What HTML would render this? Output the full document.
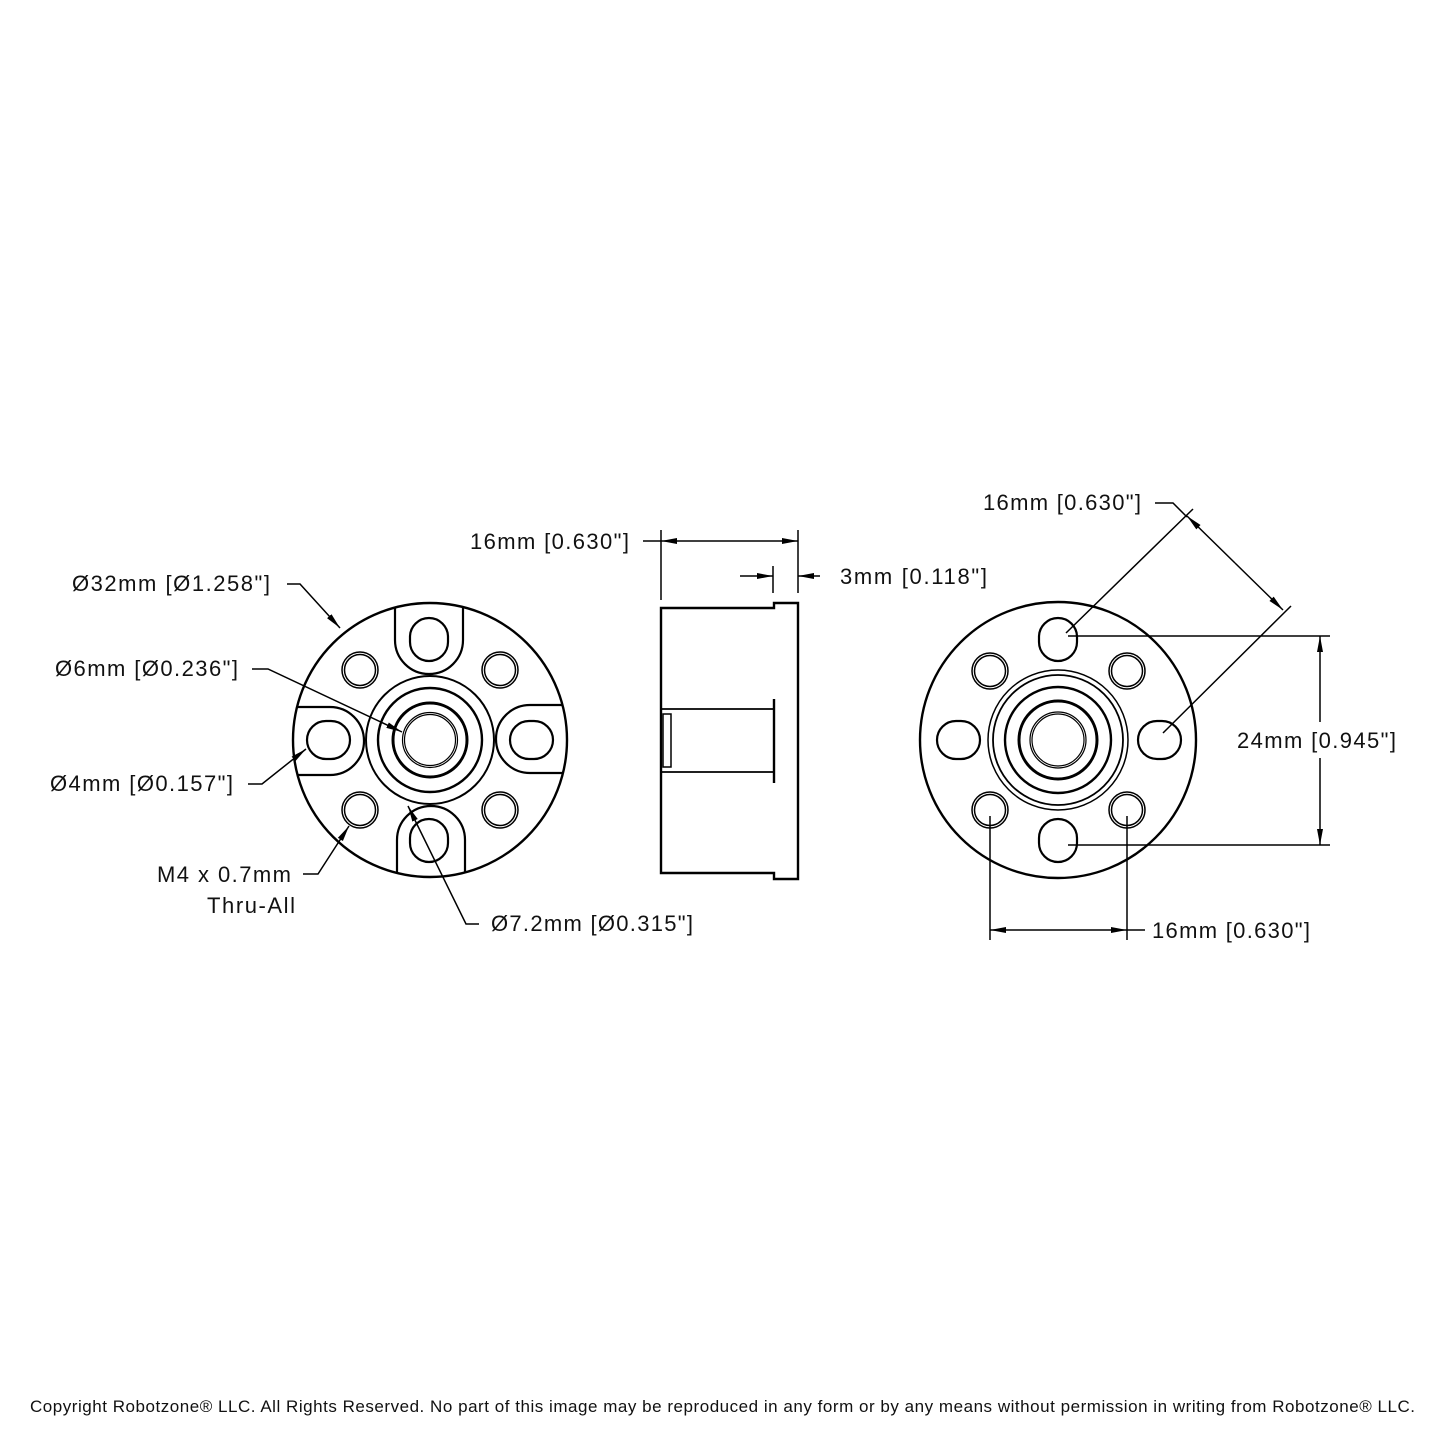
<!DOCTYPE html>
<html><head><meta charset="utf-8"><style>
html,body{margin:0;padding:0;background:#fff;}
svg{display:block;}
text{font-family:"Liberation Sans",sans-serif;font-size:22px;fill:#111;}
</style></head><body>
<svg width="1445" height="1445" viewBox="0 0 1445 1445" xmlns="http://www.w3.org/2000/svg">
<defs>
<marker id="a" viewBox="0 0 16 8" refX="16" refY="4" markerWidth="16" markerHeight="8" markerUnits="userSpaceOnUse" orient="auto"><path d="M0,1 L16,4 L0,7 z" fill="#000"/></marker>
<g id="boss">
<path d="M395,608 L395,640 A34,34 0 0 0 463,640 L463,607" fill="none" stroke="#000" stroke-width="2.2"/>
</g>
</defs>
<rect width="1445" height="1445" fill="#fff"/>
<g fill="none" stroke="#000">
<!-- LEFT VIEW -->
<circle cx="430" cy="740" r="137" stroke-width="2.4"/>
<circle cx="430" cy="740" r="64" stroke-width="2"/>
<circle cx="430" cy="740" r="52" stroke-width="2.4"/>
<circle cx="430" cy="740" r="37" stroke-width="3"/>
<circle cx="430" cy="740" r="27.5" stroke-width="1.2"/>
<circle cx="430" cy="740" r="25.5" stroke-width="1.2"/>
<use href="#boss"/>
<use href="#boss" transform="rotate(90 430 740)"/>
<use href="#boss" transform="rotate(180 430 740)"/>
<use href="#boss" transform="rotate(270 430 740)"/>
<rect x="410" y="618" width="38" height="43" rx="19" stroke-width="2.2"/>
<rect x="410" y="819" width="38" height="43" rx="19" stroke-width="2.2"/>
<rect x="307" y="721" width="43" height="38" rx="19" stroke-width="2.2"/>
<rect x="510" y="721" width="43" height="38" rx="19" stroke-width="2.2"/>
<g stroke-width="1.5">
<circle cx="360" cy="670" r="18"/><circle cx="360" cy="670" r="15.5"/>
<circle cx="500" cy="670" r="18"/><circle cx="500" cy="670" r="15.5"/>
<circle cx="360" cy="810" r="18"/><circle cx="360" cy="810" r="15.5"/>
<circle cx="500" cy="810" r="18"/><circle cx="500" cy="810" r="15.5"/>
</g>
<!-- left leaders -->
<g stroke-width="1.5">
<path d="M287,584 L300,584 L340,628" marker-end="url(#a)"/>
<path d="M252,669 L268,669 L402,732" marker-end="url(#a)"/>
<path d="M248,784 L262,784 L306,749" marker-end="url(#a)"/>
<path d="M303,874 L318,874 L349,826" marker-end="url(#a)"/>
<path d="M479,924 L466,924 L408,806" marker-end="url(#a)"/>
</g>
<!-- SIDE VIEW -->
<path d="M661,608 L774,608 L774,603 L798,603 L798,879 L774,879 L774,873 L661,873 Z" stroke-width="2.4"/>
<path d="M661,709 L774,709 M661,772 L774,772" stroke-width="1.8"/>
<path d="M774,699 L774,783" stroke-width="2.4"/>
<rect x="663" y="714" width="8" height="53" stroke-width="1.5"/>
<g stroke-width="1.5">
<path d="M661,530 L661,600 M798,530 L798,593 M773,566 L773,593"/>
<path d="M643,541 L661,541"/>
<path d="M730,541 L661,541" marker-end="url(#a)"/>
<path d="M730,541 L798,541" marker-end="url(#a)"/>
<path d="M740,576 L773,576" marker-end="url(#a)"/>
<path d="M820,576 L798,576" marker-end="url(#a)"/>
</g>
<!-- RIGHT VIEW -->
<circle cx="1058" cy="740" r="138" stroke-width="2.4"/>
<circle cx="1058" cy="740" r="70" stroke-width="1.5"/>
<circle cx="1058" cy="740" r="65" stroke-width="1.8"/>
<circle cx="1058" cy="740" r="53" stroke-width="2.4"/>
<circle cx="1058" cy="740" r="39" stroke-width="3"/>
<circle cx="1058" cy="740" r="28" stroke-width="1.2"/>
<circle cx="1058" cy="740" r="26" stroke-width="1.2"/>
<rect x="1039" y="618" width="38" height="43" rx="19" stroke-width="2.2"/>
<rect x="1039" y="819" width="38" height="43" rx="19" stroke-width="2.2"/>
<rect x="937" y="721" width="43" height="38" rx="19" stroke-width="2.2"/>
<rect x="1138" y="721" width="43" height="38" rx="19" stroke-width="2.2"/>
<g stroke-width="1.5">
<circle cx="990" cy="671" r="18"/><circle cx="990" cy="671" r="15.5"/>
<circle cx="1127" cy="671" r="18"/><circle cx="1127" cy="671" r="15.5"/>
<circle cx="990" cy="810" r="18"/><circle cx="990" cy="810" r="15.5"/>
<circle cx="1127" cy="810" r="18"/><circle cx="1127" cy="810" r="15.5"/>
</g>
<g stroke-width="1.5">
<path d="M1068,636 L1330,636 M1068,845 L1330,845"/>
<path d="M1320,722 L1320,636" marker-end="url(#a)"/>
<path d="M1320,758 L1320,845" marker-end="url(#a)"/>
<path d="M990,816 L990,940 M1127,816 L1127,940"/>
<path d="M1058,930 L990,930" marker-end="url(#a)"/>
<path d="M1058,930 L1127,930" marker-end="url(#a)"/>
<path d="M1127,930 L1145,930"/>
<path d="M1066,633 L1193,509 M1163,733 L1291,606"/>
<path d="M1235,563 L1187,516" marker-end="url(#a)"/>
<path d="M1235,563 L1283,610" marker-end="url(#a)"/>
<path d="M1155,503 L1173,503 L1187,517"/>
</g>
</g>
<text x="72" y="591" textLength="198">Ø32mm [Ø1.258"]</text>
<text x="55" y="676" textLength="183">Ø6mm [Ø0.236"]</text>
<text x="50" y="791" textLength="183">Ø4mm [Ø0.157"]</text>
<text x="157" y="882" textLength="134">M4 x 0.7mm</text>
<text x="207" y="913" textLength="88">Thru-All</text>
<text x="491" y="931" textLength="202">Ø7.2mm [Ø0.315"]</text>
<text x="470" y="549" textLength="159">16mm [0.630"]</text>
<text x="840" y="584" textLength="147">3mm [0.118"]</text>
<text x="983" y="510" textLength="158">16mm [0.630"]</text>
<text x="1237" y="748" textLength="159">24mm [0.945"]</text>
<text x="1152" y="938" textLength="158">16mm [0.630"]</text>
<text x="30" y="1412" style="font-size:17px" textLength="1385">Copyright Robotzone® LLC.  All Rights Reserved. No part of this image may be reproduced in any form or by any means without permission in writing from Robotzone® LLC.</text>
</svg>
</body></html>
